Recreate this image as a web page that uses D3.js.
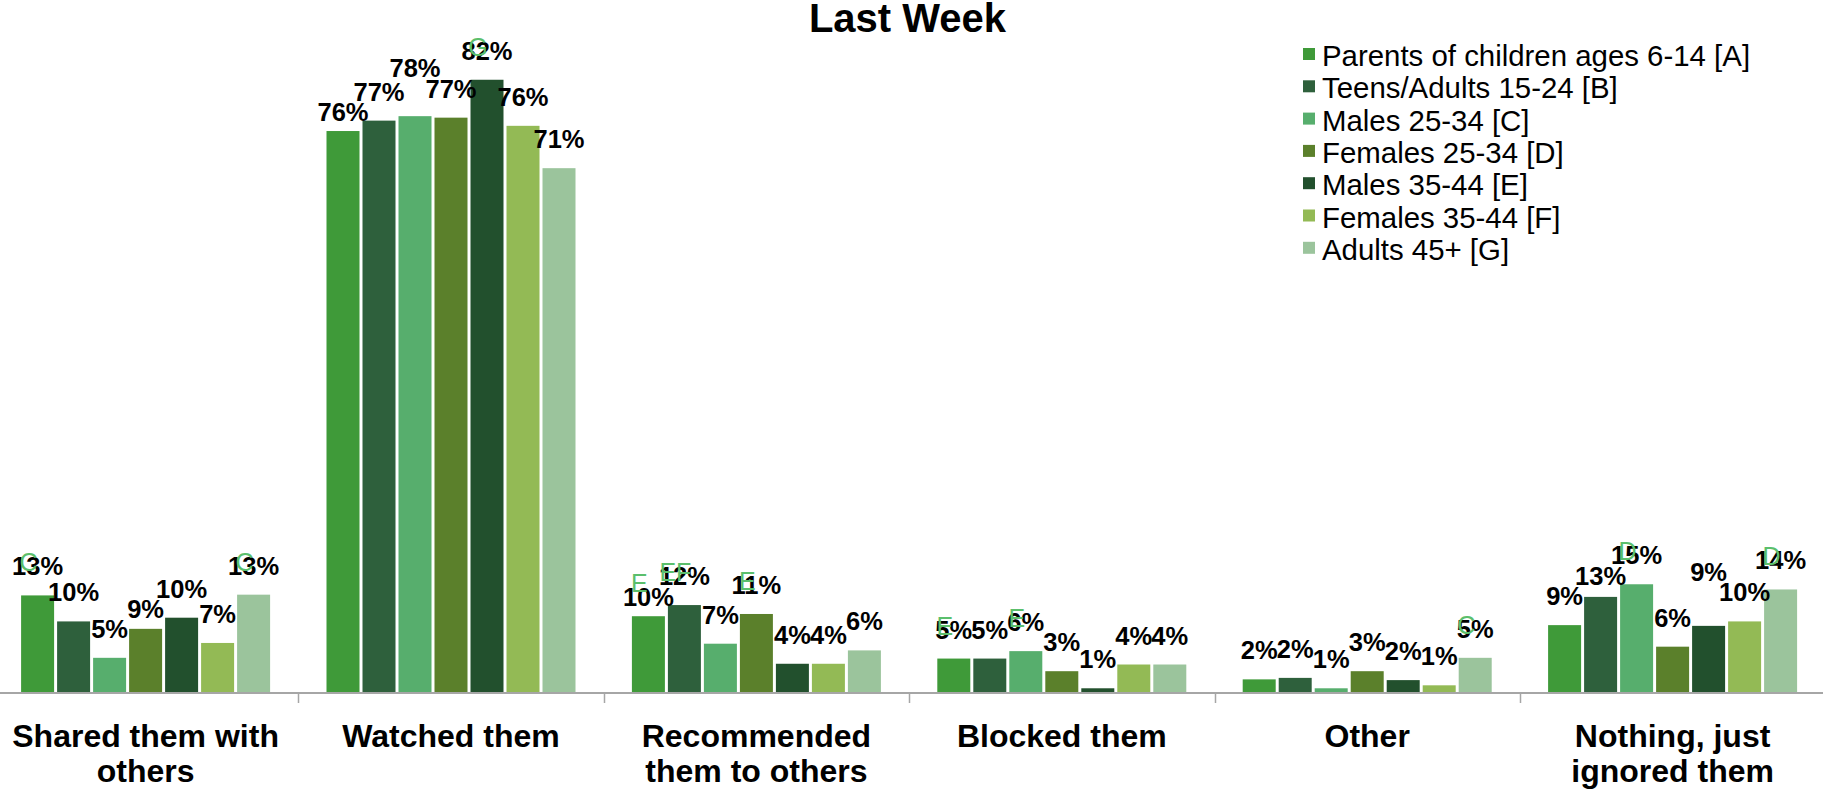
<!DOCTYPE html>
<html>
<head>
<meta charset="utf-8">
<script src="https://cdn.jsdelivr.net/npm/d3@7"></script>
<style>
  html, body { margin: 0; padding: 0; background: #ffffff; }
  svg { display: block; font-family: "Liberation Sans", Arial, Helvetica, sans-serif; }
</style>
</head>
<body>
<svg id="chart" width="1823" height="789"></svg>
<script>
// ---------------- DATA ----------------
const title = "Last Week";
const categories = ["Shared them with others", "Watched them", "Recommended them to others", "Blocked them", "Other", "Nothing, just ignored them"];
const categoryLines = [["Shared them with", "others"], ["Watched them"], ["Recommended", "them to others"], ["Blocked them"], ["Other"], ["Nothing, just", "ignored them"]];
const seriesKeys = ["A", "B", "C", "D", "E", "F", "G"];
const seriesNames = ["Parents of children ages 6-14 [A]", "Teens/Adults 15-24 [B]", "Males 25-34 [C]", "Females 25-34 [D]", "Males 35-44 [E]", "Females 35-44 [F]", "Adults 45+ [G]"];
const seriesColors = ["#3f9a39", "#2e603c", "#57ae6d", "#5b802b", "#22502d", "#93ba55", "#9bc49c"];

// percent values per series, one per category
const valuesA = [13.0, 75.5, 10.2, 4.5, 1.7, 9.0];
const valuesB = [9.5, 76.9, 11.7, 4.5, 1.9, 12.8];
const valuesC = [4.6, 77.5, 6.5, 5.5, 0.5, 14.5];
const valuesD = [8.5, 77.3, 10.5, 2.8, 2.8, 6.1];
const valuesE = [10.0, 82.4, 3.8, 0.5, 1.6, 8.9];
const valuesF = [6.6, 76.2, 3.8, 3.7, 0.9, 9.5];
const valuesG = [13.1, 70.5, 5.6, 3.7, 4.6, 13.8];

// significance letters per series, one per category
const sigA = ["C", "", "E", "E", "", ""];
const sigB = ["", "", "EF", "", "", ""];
const sigC = ["", "", "", "E", "", "D"];
const sigD = ["", "", "E", "", "", ""];
const sigE = ["", "G", "", "", "", ""];
const sigF = ["", "", "", "", "", ""];
const sigG = ["C", "", "", "", "C", "D"];

const yMax = 93;

// ---------------- BUILD ----------------
const seriesValues = [valuesA, valuesB, valuesC, valuesD, valuesE, valuesF, valuesG];
const seriesSig = [sigA, sigB, sigC, sigD, sigE, sigF, sigG];

const rows = [];
categories.forEach((cat, ci) => {
  seriesKeys.forEach((key, si) => {
    rows.push({ cat, ci, key, si, value: seriesValues[si][ci], sig: seriesSig[si][ci] });
  });
});

const svg = d3.select("#chart");
const W = 1823, H = 789;

const x0 = d3.scaleBand().domain(categories).range([-7.1, -7.1 + 6 * 305.4]).padding(0);
const x1 = d3.scaleBand().domain(seriesKeys).range([28.2, 277.2]).paddingInner(3 / 36).paddingOuter(0);
const y = d3.scaleLinear().domain([0, yMax]).range([692, 1]);

// bars
const gBars = svg.append("g");
gBars.selectAll("rect").data(rows).join("rect")
  .attr("x", d => x0(d.cat) + x1(d.key))
  .attr("y", d => y(d.value))
  .attr("width", x1.bandwidth())
  .attr("height", d => y(0) - y(d.value))
  .attr("fill", d => seriesColors[d.si]);

// axis line + ticks between categories
const axisY = 693;
svg.append("line")
  .attr("x1", 0).attr("x2", W)
  .attr("y1", axisY).attr("y2", axisY)
  .attr("stroke", "#a6a6a6").attr("stroke-width", 2);
svg.append("g").selectAll("line").data(categories.slice(1)).join("line")
  .attr("x1", d => Math.round(x0(d)) + 0.5).attr("x2", d => Math.round(x0(d)) + 0.5)
  .attr("y1", axisY).attr("y2", axisY + 10)
  .attr("stroke", "#a6a6a6").attr("stroke-width", 1.5);

// category labels
const gCat = svg.append("g");
categories.forEach((cat, ci) => {
  const t = gCat.append("text")
    .attr("x", x0(cat) + x0.bandwidth() / 2)
    .attr("y", 746.5)
    .attr("text-anchor", "middle")
    .attr("font-size", 32)
    .attr("font-weight", "bold")
    .attr("fill", "#000");
  categoryLines[ci].forEach((line, li) => {
    t.append("tspan")
      .attr("x", x0(cat) + x0.bandwidth() / 2)
      .attr("dy", li === 0 ? 0 : 35)
      .text(line);
  });
});

// value labels with simple collision avoidance (right to left within each group)
const capH = 18.5, gap = 20, pad = 2, inset = 2;
const gLab = svg.append("g");
categories.forEach((cat, ci) => {
  const placed = [];
  const groupRows = rows.filter(r => r.ci === ci).slice().reverse();
  groupRows.forEach(r => {
    const cx = x0(cat) + x1(r.key) + x1.bandwidth() / 2;
    const top = y(r.value);
    const txt = gLab.append("text")
      .attr("x", cx)
      .attr("text-anchor", "middle")
      .attr("font-size", 25.5)
      .attr("font-weight", "bold")
      .attr("fill", "#000")
      .text(Math.round(r.value) + "%");
    const w = txt.node().getComputedTextLength();
    const xl = cx - w / 2 + inset, xr = cx + w / 2 - inset;
    const def = top - gap;
    const maxBase = top - 7;
    const overlaps = (base) => placed.some(b => xl < b.xr && xr > b.xl && (base - capH) < b.bottom + pad && base > b.top - pad);
    let best = def;
    if (overlaps(def)) {
      const cands = [];
      placed.forEach(b => {
        cands.push(b.bottom + pad + capH + 0.05);
        cands.push(b.top - pad - 0.05);
      });
      let bestD = Infinity;
      cands.forEach(c => {
        if (c <= maxBase && !overlaps(c) && Math.abs(c - def) < bestD) {
          bestD = Math.abs(c - def); best = c;
        }
      });
    }
    txt.attr("y", best);
    placed.push({ xl, xr, top: best - capH, bottom: best });
  });
});

// significance letters
svg.append("g").selectAll("text").data(rows.filter(r => r.sig)).join("text")
  .attr("x", d => x0(d.cat) + x1(d.key) + x1.bandwidth() / 2 - 9)
  .attr("y", d => y(d.value) - 24)
  .attr("text-anchor", "middle")
  .attr("font-size", 25)
  .attr("fill", "#5bbf6c")
  .text(d => d.sig);

// title
svg.append("text")
  .attr("x", 907.5).attr("y", 32)
  .attr("text-anchor", "middle")
  .attr("font-size", 40)
  .attr("font-weight", "bold")
  .attr("fill", "#000")
  .text(title);

// legend
const lg = svg.append("g").attr("transform", "translate(1303,0)");
const items = lg.selectAll("g").data(seriesNames).join("g")
  .attr("transform", (d, i) => `translate(0,${66 + i * 32.3})`);
items.append("rect")
  .attr("x", 0).attr("y", -18).attr("width", 12).attr("height", 12)
  .attr("fill", (d, i) => seriesColors[i]);
items.append("text")
  .attr("x", 19).attr("y", 0)
  .attr("font-size", 29.4)
  .attr("fill", "#000")
  .text(d => d);
</script>
</body>
</html>
